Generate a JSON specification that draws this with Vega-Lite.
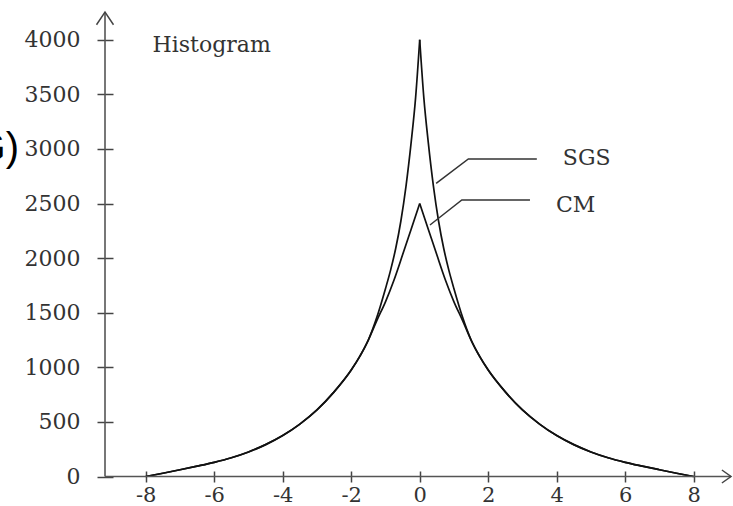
{
  "$schema": "https://vega.github.io/schema/vega-lite/v6.json",
  "width": 626,
  "height": 464.5,
  "autosize": {"type": "none"},
  "padding": {"left": 105, "top": 12, "right": 2, "bottom": 29.5},
  "background": "white",
  "config": {"view": {"stroke": null}, "font": "DejaVu Serif"},
  "datasets": {
    "curves": [
      {"series": "SGS", "side": "L", "x": -8, "y": 0}, {"series": "SGS", "side": "L", "x": -7.5, "y": 30}, {"series": "SGS", "side": "L", "x": -7, "y": 62}, {"series": "SGS", "side": "L", "x": -6.5, "y": 95}, {"series": "SGS", "side": "L", "x": -6, "y": 130}, {"series": "SGS", "side": "L", "x": -5.5, "y": 172}, {"series": "SGS", "side": "L", "x": -5, "y": 225}, {"series": "SGS", "side": "L", "x": -4.5, "y": 292}, {"series": "SGS", "side": "L", "x": -4, "y": 375}, {"series": "SGS", "side": "L", "x": -3.5, "y": 480}, {"series": "SGS", "side": "L", "x": -3, "y": 610}, {"series": "SGS", "side": "L", "x": -2.5, "y": 775}, {"series": "SGS", "side": "L", "x": -2, "y": 975}, {"series": "SGS", "side": "L", "x": -1.75, "y": 1100}, {"series": "SGS", "side": "L", "x": -1.5, "y": 1250}, {"series": "SGS", "side": "L", "x": -1.25, "y": 1460}, {"series": "SGS", "side": "L", "x": -1, "y": 1720}, {"series": "SGS", "side": "L", "x": -0.85, "y": 1890}, {"series": "SGS", "side": "L", "x": -0.7, "y": 2090}, {"series": "SGS", "side": "L", "x": -0.55, "y": 2340}, {"series": "SGS", "side": "L", "x": -0.4, "y": 2660}, {"series": "SGS", "side": "L", "x": -0.25, "y": 3060}, {"series": "SGS", "side": "L", "x": -0.12, "y": 3470}, {"series": "SGS", "side": "L", "x": 0, "y": 4000},
      {"series": "SGS", "side": "R", "x": 0, "y": 4000}, {"series": "SGS", "side": "R", "x": 0.12, "y": 3470}, {"series": "SGS", "side": "R", "x": 0.25, "y": 3060}, {"series": "SGS", "side": "R", "x": 0.4, "y": 2660}, {"series": "SGS", "side": "R", "x": 0.55, "y": 2340}, {"series": "SGS", "side": "R", "x": 0.7, "y": 2090}, {"series": "SGS", "side": "R", "x": 0.85, "y": 1890}, {"series": "SGS", "side": "R", "x": 1, "y": 1720}, {"series": "SGS", "side": "R", "x": 1.25, "y": 1460}, {"series": "SGS", "side": "R", "x": 1.5, "y": 1250}, {"series": "SGS", "side": "R", "x": 1.75, "y": 1100}, {"series": "SGS", "side": "R", "x": 2, "y": 975}, {"series": "SGS", "side": "R", "x": 2.5, "y": 775}, {"series": "SGS", "side": "R", "x": 3, "y": 610}, {"series": "SGS", "side": "R", "x": 3.5, "y": 480}, {"series": "SGS", "side": "R", "x": 4, "y": 375}, {"series": "SGS", "side": "R", "x": 4.5, "y": 292}, {"series": "SGS", "side": "R", "x": 5, "y": 225}, {"series": "SGS", "side": "R", "x": 5.5, "y": 172}, {"series": "SGS", "side": "R", "x": 6, "y": 130}, {"series": "SGS", "side": "R", "x": 6.5, "y": 95}, {"series": "SGS", "side": "R", "x": 7, "y": 62}, {"series": "SGS", "side": "R", "x": 7.5, "y": 30}, {"series": "SGS", "side": "R", "x": 8, "y": 0},
      {"series": "CM", "side": "L", "x": -8, "y": 0}, {"series": "CM", "side": "L", "x": -7.5, "y": 30}, {"series": "CM", "side": "L", "x": -7, "y": 62}, {"series": "CM", "side": "L", "x": -6.5, "y": 95}, {"series": "CM", "side": "L", "x": -6, "y": 130}, {"series": "CM", "side": "L", "x": -5.5, "y": 172}, {"series": "CM", "side": "L", "x": -5, "y": 225}, {"series": "CM", "side": "L", "x": -4.5, "y": 292}, {"series": "CM", "side": "L", "x": -4, "y": 375}, {"series": "CM", "side": "L", "x": -3.5, "y": 480}, {"series": "CM", "side": "L", "x": -3, "y": 610}, {"series": "CM", "side": "L", "x": -2.5, "y": 775}, {"series": "CM", "side": "L", "x": -2, "y": 975}, {"series": "CM", "side": "L", "x": -1.75, "y": 1100}, {"series": "CM", "side": "L", "x": -1.5, "y": 1250}, {"series": "CM", "side": "L", "x": -1.25, "y": 1430}, {"series": "CM", "side": "L", "x": -1, "y": 1600}, {"series": "CM", "side": "L", "x": -0.75, "y": 1800}, {"series": "CM", "side": "L", "x": -0.5, "y": 2030}, {"series": "CM", "side": "L", "x": -0.25, "y": 2265}, {"series": "CM", "side": "L", "x": 0, "y": 2500},
      {"series": "CM", "side": "R", "x": 0, "y": 2500}, {"series": "CM", "side": "R", "x": 0.25, "y": 2265}, {"series": "CM", "side": "R", "x": 0.5, "y": 2030}, {"series": "CM", "side": "R", "x": 0.75, "y": 1800}, {"series": "CM", "side": "R", "x": 1, "y": 1600}, {"series": "CM", "side": "R", "x": 1.25, "y": 1430}, {"series": "CM", "side": "R", "x": 1.5, "y": 1250}, {"series": "CM", "side": "R", "x": 1.75, "y": 1100}, {"series": "CM", "side": "R", "x": 2, "y": 975}, {"series": "CM", "side": "R", "x": 2.5, "y": 775}, {"series": "CM", "side": "R", "x": 3, "y": 610}, {"series": "CM", "side": "R", "x": 3.5, "y": 480}, {"series": "CM", "side": "R", "x": 4, "y": 375}, {"series": "CM", "side": "R", "x": 4.5, "y": 292}, {"series": "CM", "side": "R", "x": 5, "y": 225}, {"series": "CM", "side": "R", "x": 5.5, "y": 172}, {"series": "CM", "side": "R", "x": 6, "y": 130}, {"series": "CM", "side": "R", "x": 6.5, "y": 95}, {"series": "CM", "side": "R", "x": 7, "y": 62}, {"series": "CM", "side": "R", "x": 7.5, "y": 30}, {"series": "CM", "side": "R", "x": 8, "y": 0}
    ],
    "axislines": [
      {"x": -9.19, "y": 0, "x2": -9.19, "y2": 4254},
      {"x": -9.19, "y": 0, "x2": 9.09, "y2": 0}
    ],
    "leaders": [
      {"grp": "SGS", "ord": 1, "x": 0.48, "y": 2685}, {"grp": "SGS", "ord": 2, "x": 1.42, "y": 2908}, {"grp": "SGS", "ord": 3, "x": 3.42, "y": 2908},
      {"grp": "CM", "ord": 1, "x": 0.3, "y": 2303}, {"grp": "CM", "ord": 2, "x": 1.23, "y": 2532}, {"grp": "CM", "ord": 3, "x": 3.22, "y": 2532}
    ],
    "labels": [
      {"label": "SGS", "x": 4.18, "y": 2917},
      {"label": "CM", "x": 3.98, "y": 2482}
    ]
  },
  "layer": [
    {
      "data": {"name": "curves"},
      "mark": {"type": "line", "strokeWidth": 1.7, "interpolate": "monotone"},
      "encoding": {
        "x": {"field": "x", "type": "quantitative", "scale": {"domain": [-9.19, 9.09], "nice": false, "zero": false},
          "axis": {"values": [-8, -6, -4, -2, 0, 2, 4, 6, 8], "labelExpr": "toString(datum.value)", "domain": false, "grid": false, "offset": -5.5, "tickSize": 11, "tickColor": "#444", "tickWidth": 1.5, "labelPadding": 2, "labelFontSize": 21, "labelColor": "#333", "labelFont": "DejaVu Serif", "title": null}},
        "y": {"field": "y", "type": "quantitative", "scale": {"domain": [0, 4254], "nice": false, "zero": false},
          "axis": {"values": [0, 500, 1000, 1500, 2000, 2500, 3000, 3500, 4000], "labelExpr": "toString(datum.value)", "domain": false, "grid": false, "offset": -8, "tickSize": 16, "tickColor": "#444", "tickWidth": 1.5, "labelPadding": 17, "labelFontSize": 22, "labelColor": "#333", "labelFont": "DejaVu Serif", "title": null}},
        "detail": [{"field": "series"}, {"field": "side"}],
        "color": {"value": "#111"}
      }
    },
    {
      "data": {"name": "axislines"},
      "mark": {"type": "rule", "color": "#555", "strokeWidth": 1.6},
      "encoding": {
        "x": {"field": "x", "type": "quantitative"},
        "y": {"field": "y", "type": "quantitative"},
        "x2": {"field": "x2"},
        "y2": {"field": "y2"}
      }
    },
    {
      "data": {"values": [{"x": 9.09, "y": 0}]},
      "mark": {"type": "point", "shape": "M-1.4,-1L0,0L-1.4,1", "size": 169, "filled": false, "stroke": "#444", "strokeWidth": 1.5, "opacity": 1},
      "encoding": {"x": {"field": "x", "type": "quantitative"}, "y": {"field": "y", "type": "quantitative"}}
    },
    {
      "data": {"values": [{"x": -9.19, "y": 4254}]},
      "mark": {"type": "point", "shape": "M-1,1.5L0,0L1,1.5", "size": 289, "filled": false, "stroke": "#444", "strokeWidth": 1.5, "opacity": 1},
      "encoding": {"x": {"field": "x", "type": "quantitative"}, "y": {"field": "y", "type": "quantitative"}}
    },
    {
      "data": {"name": "leaders"},
      "mark": {"type": "line", "strokeWidth": 1.5, "color": "#333"},
      "encoding": {
        "x": {"field": "x", "type": "quantitative"},
        "y": {"field": "y", "type": "quantitative"},
        "detail": {"field": "grp"},
        "order": {"field": "ord"}
      }
    },
    {
      "data": {"name": "labels"},
      "mark": {"type": "text", "align": "left", "baseline": "middle", "fontSize": 22, "font": "DejaVu Serif", "color": "#333"},
      "encoding": {
        "x": {"field": "x", "type": "quantitative"},
        "y": {"field": "y", "type": "quantitative"},
        "text": {"field": "label"}
      }
    },
    {
      "data": {"values": [{"label": "Histogram", "x": -7.8, "y": 3890}]},
      "mark": {"type": "text", "align": "left", "baseline": "alphabetic", "fontSize": 22, "font": "DejaVu Serif", "color": "#333"},
      "encoding": {
        "x": {"field": "x", "type": "quantitative"},
        "y": {"field": "y", "type": "quantitative"},
        "text": {"field": "label"}
      }
    },
    {
      "data": {"values": [{"label": "(G)", "x": -11.7, "y": 3000}]},
      "mark": {"type": "text", "align": "right", "baseline": "middle", "fontSize": 40, "font": "Liberation Sans", "color": "#000"},
      "encoding": {
        "x": {"field": "x", "type": "quantitative"},
        "y": {"field": "y", "type": "quantitative"},
        "text": {"field": "label"}
      }
    }
  ]
}
